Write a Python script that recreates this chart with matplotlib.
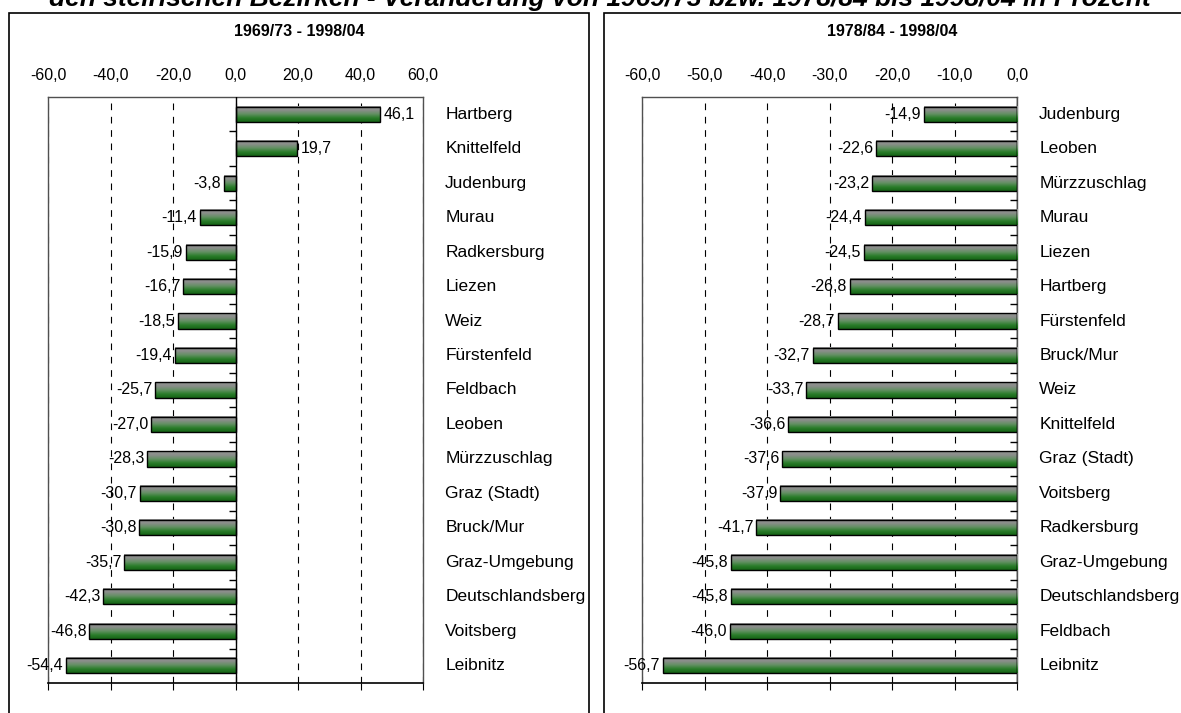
import numpy as np
import matplotlib.pyplot as plt
from matplotlib.colors import LinearSegmentedColormap
from matplotlib.patches import Rectangle

plt.rcParams['font.family'] = ['Liberation Sans', 'DejaVu Sans']

title = "den steirischen Bezirken - Veränderung von 1969/73 bzw. 1978/84 bis 1998/04 in Prozent"

left_title = "1969/73 - 1998/04"
left_districts = ["Hartberg", "Knittelfeld", "Judenburg", "Murau", "Radkersburg", "Liezen",
                  "Weiz", "Fürstenfeld", "Feldbach", "Leoben", "Mürzzuschlag", "Graz (Stadt)",
                  "Bruck/Mur", "Graz-Umgebung", "Deutschlandsberg", "Voitsberg", "Leibnitz"]
left_values = [46.1, 19.7, -3.8, -11.4, -15.9, -16.7, -18.5, -19.4, -25.7, -27.0, -28.3,
               -30.7, -30.8, -35.7, -42.3, -46.8, -54.4]
left_ticks = [-60, -40, -20, 0, 20, 40, 60]

right_title = "1978/84 - 1998/04"
right_districts = ["Judenburg", "Leoben", "Mürzzuschlag", "Murau", "Liezen", "Hartberg",
                   "Fürstenfeld", "Bruck/Mur", "Weiz", "Knittelfeld", "Graz (Stadt)", "Voitsberg",
                   "Radkersburg", "Graz-Umgebung", "Deutschlandsberg", "Feldbach", "Leibnitz"]
right_values = [-14.9, -22.6, -23.2, -24.4, -24.5, -26.8, -28.7, -32.7, -33.7, -36.6, -37.6,
                -37.9, -41.7, -45.8, -45.8, -46.0, -56.7]
right_ticks = [-60, -50, -40, -30, -20, -10, 0]

# grey on top fading to green at the bottom, like the old excel fill
bar_cmap = LinearSegmentedColormap.from_list(
    'bar', ['#939393', '#8a8e8a', '#629062', '#2a7d2a', '#166216'])
grad = np.linspace(0, 1, 64).reshape(-1, 1)


def fmt(v):
    return f"{v:.1f}".replace('.', ',')


def draw_panel(ax, names, values, ticks):
    n = len(names)
    ypos = np.arange(n)
    h = 0.44
    xmin, xmax = ticks[0], ticks[-1]

    for yi, v in zip(ypos, values):
        x0, x1 = min(0, v), max(0, v)
        ax.imshow(grad, cmap=bar_cmap, aspect='auto', origin='upper',
                  extent=(x0, x1, yi + h / 2, yi - h / 2), zorder=3)
        ax.add_patch(Rectangle((x0, yi - h / 2), x1 - x0, h, fill=False,
                               ec='black', lw=1, zorder=4))
        if v < 0:
            ax.annotate(fmt(v), (v, yi), xytext=(-2, 0), textcoords='offset points',
                        ha='right', va='center', fontsize=11.5, zorder=5)
        else:
            ax.annotate(fmt(v), (v, yi), xytext=(3, 0), textcoords='offset points',
                        ha='left', va='center', fontsize=11.5, zorder=5)
        ax.annotate(names[yi], (1, yi), xycoords=('axes fraction', 'data'),
                    xytext=(16, 0), textcoords='offset points',
                    ha='left', va='center', fontsize=12.5, annotation_clip=False)

    ax.set_xlim(xmin, xmax)
    ax.set_ylim(n - 0.5, -0.5)

    ax.set_xticks(ticks)
    ax.set_xticklabels([fmt(t) for t in ticks])
    ax.tick_params(axis='x', top=False, bottom=True, labeltop=True, labelbottom=False,
                   direction='out', length=5, pad=5, labelsize=11.5, color='black')
    ax.set_yticks([])
    ax.grid(axis='x', ls=(0, (6, 6)), color='black', lw=0.8, zorder=1)

    # zero axis with small ticks between districts
    ax.axvline(0, color='black', lw=1, zorder=4)
    bounds = ypos[:-1] + 0.5
    ax.plot(np.zeros(len(bounds)), bounds, ls='none', marker=0, ms=5,
            mew=1, color='black', zorder=4, clip_on=False)

    for side in ['top', 'left', 'right']:
        ax.spines[side].set_color('#505050')
        ax.spines[side].set_linewidth(1)
    ax.spines['bottom'].set_color('black')
    ax.spines['bottom'].set_linewidth(1.2)


fig = plt.figure(figsize=(11.81, 7.13), dpi=100)

ax1 = fig.add_axes([48 / 1181, 1 - 683 / 713, 375 / 1181, 586 / 713])
ax2 = fig.add_axes([642 / 1181, 1 - 683 / 713, 375 / 1181, 586 / 713])

draw_panel(ax1, left_districts, left_values, left_ticks)
draw_panel(ax2, right_districts, right_values, right_ticks)

# panel frames
fig.add_artist(Rectangle((9 / 1181, -0.05), 580 / 1181, 0.05 + 1 - 13 / 713,
                         transform=fig.transFigure, fill=False, ec='black', lw=1.2))
fig.add_artist(Rectangle((604 / 1181, -0.05), 0.6, 0.05 + 1 - 13 / 713,
                         transform=fig.transFigure, fill=False, ec='black', lw=1.2))

fig.text(299 / 1181, 1 - 32 / 713, left_title, ha='center', va='center',
         fontsize=11.5, fontweight='bold')
fig.text(892 / 1181, 1 - 32 / 713, right_title, ha='center', va='center',
         fontsize=11.5, fontweight='bold')

# main title is cut off at the top in the source image
fig.text(600 / 1181, 1 - 6 / 713, title, ha='center', va='baseline',
         fontsize=19, fontweight='bold', fontstyle='italic')

fig.savefig('out.png', dpi=100)
